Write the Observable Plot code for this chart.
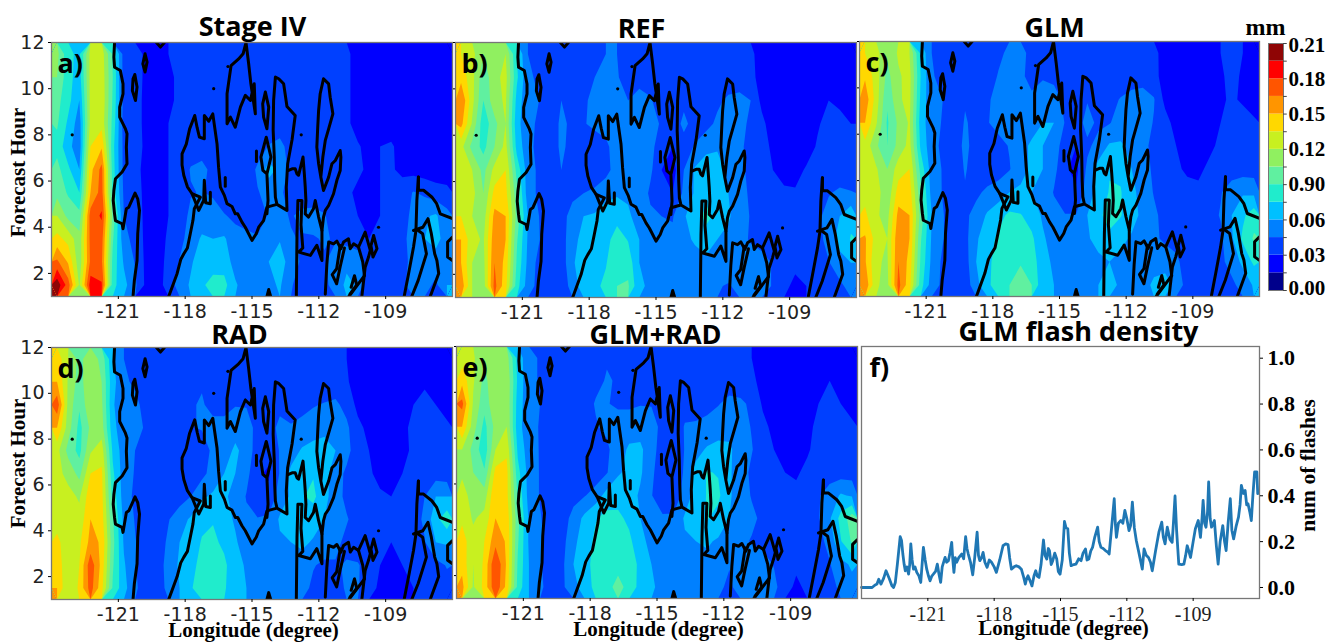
<!DOCTYPE html>
<html><head><meta charset="utf-8">
<script src="https://cdn.jsdelivr.net/npm/d3@7"></script>
<script src="https://cdn.jsdelivr.net/npm/@observablehq/plot@0.6"></script>
<style>
html,body{margin:0;padding:0;background:#fff}
#stage{position:relative;width:1338px;height:642px;overflow:hidden}
#stage svg{position:absolute;overflow:visible;background:transparent}
</style></head><body><div id="stage"></div>
<script>
// Precipitation fields in thousandths of a mm. 36 columns (-124..-106, 0.5 deg), 11 rows (hour 12 at top to hour 1).
const stageIV = [
110,78,72,125,128,88, 38,36,27,26,30,33, 36,36,38,36,36,34, 36,36,36,36,36,36, 36,34,34,22,22,22, 22,22,22,22,22,22,
105,80,68,125,130,90, 38,36,27,24,28,32, 36,38,36,36,38,34, 36,36,36,36,36,36, 36,34,34,22,22,22, 22,22,22,22,22,22,
95,80,60,125,132,88, 40,36,26,22,28,32, 36,34,38,36,36,34, 36,34,36,34,36,36, 36,34,34,22,22,22, 22,22,22,22,22,22,
92,72,52,125,130,85, 38,36,26,24,30,34, 36,36,38,38,36,34, 36,34,36,36,36,36, 36,34,34,22,22,22, 22,22,22,22,22,22,
85,65,50,135,148,80, 40,36,27,24,30,34, 38,40,38,38,36,36, 36,46,50,38,36,36, 36,36,34,32,24,30, 32,24,24,22,22,22,
95,78,60,145,170,82, 40,34,26,24,30,36, 46,48,42,36,34,34, 48,66,56,40,36,34, 34,36,34,32,28,30, 32,26,24,22,22,22,
100,88,75,150,172,85, 42,36,26,24,30,36, 44,46,42,36,34,34, 44,50,48,38,38,36, 36,34,32,28,28,30, 30,38,46,42,36,34,
120,100,95,172,182,100, 45,38,26,24,30,38, 48,52,54,46,42,40, 40,46,48,44,48,50, 46,38,34,30,28,30, 32,38,50,58,62,50,
140,130,110,170,172,92, 50,40,26,24,32,40, 52,62,60,62,50,48, 46,56,58,46,44,44, 46,44,40,36,30,30, 34,42,50,60,66,52,
168,148,110,168,168,85, 58,44,26,24,34,46, 58,68,66,68,54,50, 50,60,72,48,44,40, 44,50,56,54,34,30, 36,42,48,52,52,50,
205,172,118,188,182,80, 65,48,26,24,36,52, 62,72,82,80,62,52, 50,56,62,46,40,38, 42,50,64,58,30,30, 36,42,52,50,42,60];
const ref = [
135,125,105,118,120,75, 45,40,36,45,38,35, 40,45,45,38,40,36, 38,36,38,36,36,34, 36,34,34,22,22,22, 22,22,22,26,26,22,
145,125,95,115,125,78, 48,42,32,45,40,38, 45,48,46,40,42,40, 38,36,38,38,36,36, 36,36,36,22,22,22, 22,22,24,28,24,22,
165,125,90,115,122,70, 48,45,32,45,42,42, 50,50,48,45,48,46, 40,36,42,40,38,42, 48,50,45,26,22,22, 22,22,26,30,26,24,
155,118,80,100,120,65, 50,42,36,48,42,44, 48,50,55,52,55,55, 42,38,48,40,40,48, 52,50,42,34,22,22, 22,22,28,36,36,30,
125,100,85,105,125,70, 50,40,36,48,40,36, 38,42,52,58,55,50, 36,30,40,46,55,58, 52,48,40,34,28,22, 22,22,32,36,36,32,
125,120,100,125,135,85, 52,42,36,45,40,36, 36,40,52,60,58,48, 30,24,45,62,70,68, 56,50,40,36,30,26, 24,32,36,36,36,36,
128,125,105,140,140,95, 52,42,35,42,42,45, 48,55,58,58,56,42, 30,30,48,62,72,72, 60,52,42,36,32,32, 32,36,40,44,48,46,
135,120,112,155,150,100, 60,45,32,40,50,60, 62,68,70,62,55,48, 45,44,58,70,78,72, 62,52,44,38,36,34, 34,36,42,50,60,72,
150,125,118,160,150,92, 58,46,32,38,55,65, 68,70,82,74,60,52, 48,48,56,62,70,60, 56,48,44,40,38,32, 30,32,38,52,66,76,
150,120,115,165,145,88, 56,40,32,36,58,68, 70,74,86,84,60,55, 50,50,52,54,55,50, 52,50,50,50,44,34, 32,32,36,44,54,60,
160,120,112,170,140,82, 52,40,30,34,52,68, 72,78,90,92,62,58, 52,48,50,52,52,46, 44,48,50,50,44,32, 28,30,32,36,42,50];
const glm = [
135,125,108,122,120,72, 45,40,36,42,40,35, 42,48,48,42,40,36, 38,36,38,36,38,36, 36,34,34,24,22,22, 22,24,30,32,30,26,
148,128,100,118,125,75, 46,42,34,42,42,38, 46,48,48,40,44,42, 38,36,38,40,38,36, 38,38,36,22,22,22, 24,24,28,34,28,24,
160,128,92,118,124,72, 48,45,36,44,42,42, 52,52,50,48,50,50, 42,36,44,42,40,46, 50,52,46,26,22,22, 22,24,28,32,28,24,
150,122,88,108,122,68, 50,44,38,46,42,44, 50,52,58,55,60,60, 44,38,50,42,44,52, 58,52,44,36,24,22, 22,24,30,38,36,32,
130,108,90,110,125,72, 50,42,38,48,40,38, 40,46,56,62,60,54, 36,30,42,50,62,62, 56,48,42,36,30,24, 22,26,34,38,38,34,
128,122,105,128,135,85, 52,44,38,46,40,36, 38,44,56,62,60,50, 32,26,48,66,74,72, 60,52,42,38,32,28, 26,34,38,38,38,38,
130,128,108,142,142,95, 54,44,36,44,42,48, 52,60,62,60,56,44, 32,32,52,66,76,76, 64,54,44,38,34,34, 34,38,44,52,58,56,
138,122,115,155,150,100, 60,46,36,42,50,62, 70,78,76,68,58,50, 46,46,60,72,80,76, 66,56,48,40,38,36, 36,40,46,60,72,84,
152,128,120,162,150,92, 58,46,36,40,58,68, 78,82,86,78,62,54, 50,50,58,66,72,64, 58,52,48,42,40,36, 34,36,42,58,78,92,
152,122,118,165,145,88, 56,42,36,38,60,72, 80,84,88,84,64,58, 52,50,52,56,60,56, 56,56,56,54,48,38, 36,36,42,50,64,78,
162,122,115,170,140,82, 52,42,34,36,55,72, 82,90,100,90,64,60, 55,50,55,60,70,55, 48,56,62,66,56,38, 32,34,38,42,50,62];
const rad = [
145,120,100,115,100,62, 45,42,36,30,34,34, 38,42,38,38,42,36, 36,34,36,36,36,36, 34,34,30,22,22,24, 24,24,28,26,22,22,
150,118,98,118,105,65, 48,42,36,30,36,38, 40,44,40,38,42,40, 36,34,36,38,36,36, 36,36,32,22,22,22, 24,24,26,28,24,22,
175,115,92,118,108,62, 48,50,38,32,36,40, 44,46,42,40,44,44, 38,36,42,40,42,44, 46,48,40,26,24,22, 22,24,30,34,30,26,
150,112,85,108,112,65, 50,58,40,34,36,42, 44,46,48,50,56,52, 40,40,48,46,48,52, 56,54,48,34,26,22, 22,24,36,40,36,32,
125,100,85,118,128,72, 52,45,38,36,36,34, 34,38,48,55,62,56, 36,34,46,52,62,66, 66,60,50,36,30,24, 22,24,34,38,38,34,
125,115,100,135,138,78, 52,44,38,34,34,32, 34,40,52,60,60,50, 32,28,46,64,74,74, 66,52,42,36,32,26, 24,30,36,38,38,36,
130,125,118,145,140,85, 52,42,36,34,36,38, 45,58,62,62,56,44, 34,34,52,62,74,78, 66,50,42,38,34,32, 30,32,34,45,60,60,
130,122,125,150,142,92, 56,44,36,34,44,54, 62,72,74,66,58,48, 46,48,62,66,72,68, 60,50,46,40,36,34, 32,34,38,48,70,85,
138,128,132,155,148,95, 58,46,36,36,48,60, 68,76,78,72,62,52, 50,50,58,60,64,58, 54,48,42,38,36,32, 30,32,34,44,60,62,
145,122,135,175,145,92, 62,46,36,36,52,62, 72,78,85,78,66,58, 54,48,50,52,52,46, 42,44,46,46,40,30, 28,30,32,36,40,46,
150,120,138,172,140,88, 65,48,36,36,50,60, 74,80,90,78,60,60, 54,46,48,50,50,42, 36,42,46,46,38,26, 24,26,30,34,36,40];
const glmRad = [
128,122,108,118,112,70, 48,44,42,34,36,34, 38,44,44,40,42,36, 36,34,34,34,36,34, 36,34,30,24,22,22, 22,22,30,28,26,24,
145,122,100,118,118,72, 48,44,40,34,38,38, 42,46,44,40,42,40, 36,34,36,38,36,36, 36,36,34,24,22,22, 22,22,28,30,28,24,
170,118,95,118,118,68, 50,45,38,36,38,40, 46,46,42,42,44,44, 38,34,40,42,42,44, 50,48,42,28,22,22, 22,24,30,34,30,26,
150,112,85,110,120,66, 50,44,38,36,38,42, 44,48,54,54,56,52, 40,36,46,46,48,54, 56,52,44,34,26,24, 22,26,34,40,36,32,
120,100,80,120,132,72, 52,44,38,36,36,34, 34,42,54,62,62,54, 34,30,46,54,62,64, 62,54,46,36,30,26, 24,28,36,40,38,34,
118,105,92,140,140,80, 54,44,38,36,36,32, 36,44,58,64,62,50, 30,30,48,66,76,74, 62,52,42,38,34,30, 28,34,38,40,38,38,
125,115,112,150,140,88, 54,44,38,36,40,44, 52,66,70,66,58,46, 32,34,52,66,76,78, 62,52,44,40,36,34, 34,38,44,50,62,58,
132,118,125,150,145,95, 58,46,38,38,50,64, 74,80,78,72,60,50, 48,48,62,70,76,70, 60,52,48,42,40,36, 34,38,44,58,80,98,
142,125,135,160,148,92, 58,48,38,40,56,68, 78,84,84,78,66,54, 52,50,58,60,62,58, 54,48,44,40,38,36, 34,34,40,50,74,92,
145,120,138,180,148,88, 60,46,40,42,60,70, 80,86,88,86,70,60, 54,50,54,54,56,50, 46,50,52,52,44,36, 32,34,38,44,56,62,
155,118,140,178,145,85, 60,48,38,42,56,66, 80,88,92,88,68,62, 56,48,52,56,56,48, 42,52,58,60,50,34, 28,32,36,40,48,56];

// Black outline, common to the five maps: [longitude, hour] along each traced line.
const outlineCoast = [[-121.17,12],[-121.2,11.37],[-121.17,10.93],[-120.91,10.79],[-120.79,10.21],[-120.79,9.78],[-120.94,9.2],[-120.94,8.77],[-120.68,8.26],[-120.61,8.05],[-120.64,7.47],[-120.61,6.75],[-120.83,6.39],[-121.13,6.1],[-121.2,5.59],[-121.23,5.16],[-121.17,4.58],[-121.13,4.29],[-120.83,4.15],[-120.79,3.93],[-120.64,4.8],[-120.53,4.87],[-120.25,5.48],[-120.13,5.23],[-120.05,4.73],[-120.13,3.72],[-120.16,2.56],[-120.28,1.7],[-120.34,1]];
const outlineLoopA = [[-119.8,11.51],[-119.71,11.15],[-119.8,10.72],[-119.9,11.08],[-119.8,11.51]];
const outlineLoopB = [[-120.26,10.61],[-120.16,10.07],[-120.23,9.49],[-120.37,9.92],[-120.34,10.43],[-120.26,10.61]];
const outlineNotch = [[-119.29,12],[-119.11,11.8],[-118.93,12]];
const outlineBasin = [[-118.74,1],[-118.36,2],[-118.2,2.6],[-118.06,2.85],[-117.9,3.1],[-117.77,3.72],[-117.65,4.3],[-117.59,4.8],[-117.32,5.3],[-117.69,5.45],[-117.9,5.75],[-118.06,6.24],[-118.14,6.7],[-118.14,7.18],[-117.95,7.6],[-117.8,8.26],[-117.57,8.84],[-117.46,8.3],[-117.36,7.9],[-117.14,7.83],[-117.14,8.84],[-116.94,8.59],[-116.76,8.91],[-116.57,7.61],[-116.5,6.6],[-116.42,5.74],[-116.24,5.38],[-116.12,5.02],[-115.9,4.9],[-115.75,4.58],[-115.64,4.58],[-115.45,4.22],[-115.3,4],[-115.15,3.72],[-115,3.43],[-114.81,3.72],[-114.7,4],[-114.48,4.29],[-114.33,4.87],[-113.88,4.99],[-113.43,4.73],[-113.46,5.74],[-113.4,6.75],[-113.2,7.8],[-113.06,8.84],[-113.43,9.23],[-113.58,10.21],[-113.8,10.43],[-113.95,10.5],[-114.03,9.49],[-114.05,8.2],[-114,7.04],[-113.98,6],[-113.95,5.3],[-113.88,4.99]];
const outlineKnot = [[-117.69,5.45],[-117.39,4.73],[-117.17,5.16],[-117.14,6.03],[-117.08,5.06],[-116.87,5.02],[-116.87,5.52]];
const outlinePeak = [[-115.27,12],[-115.15,11.08],[-115.05,10.21],[-114.85,8.91],[-114.9,10.21],[-115.07,9.49],[-115.3,9.71],[-115.52,9.2],[-115.75,8.33],[-115.97,8.77],[-116.12,8.48],[-116.12,9.78],[-115.94,11],[-115.6,11.29],[-115.4,11.51],[-115.27,12]];
const outlineLoopC = [[-114.4,9.85],[-114.25,9.2],[-114.33,8.26],[-114.48,8.77],[-114.52,9.34],[-114.4,9.85]];
const outlineDrop = [[-114.33,4.58],[-114.28,5.16],[-114.33,6.31],[-114.51,6.46],[-114.6,7.04],[-114.36,7.9],[-114.15,7.04],[-114.33,6.31]];
const outlineStem = [[-116.2,6.15],[-116.2,5.78]];
const outlineStemB = [[-114.8,7.3],[-114.8,6.85]];
const outlineRidge = [[-113.36,6.46],[-113.2,6.53],[-113.06,6.53],[-112.98,6.31],[-112.91,6.25],[-112.71,7.04],[-112.65,6.31],[-112.61,5.74],[-112.58,5.16],[-112.61,4.58],[-112.46,4.44],[-112.24,4.8],[-112.16,5.16],[-112.01,4.44],[-111.86,3.86],[-111.79,4.44],[-111.71,4.73],[-111.56,4.94],[-111.34,5.45],[-111.19,6.03],[-111.04,6.46],[-111.01,7.04],[-111.04,7.32],[-111.26,6.89],[-111.41,6.75],[-111.56,6.17],[-111.79,5.59],[-111.91,6.17],[-112.01,6.75],[-112.09,7.47],[-112.05,8.33],[-112.01,9.06],[-111.94,9.78],[-111.79,10.43],[-111.56,10.21],[-111.49,9.63],[-111.37,8.91],[-111.56,8.26],[-111.71,7.76],[-111.82,7.04],[-111.91,6.17]];
const outlineSouth = [[-113.01,1],[-112.98,3.72],[-112.94,5.16],[-112.76,5.16],[-112.8,4.1],[-112.72,3.1],[-112.9,2.92],[-112.38,2.78],[-112.09,3.22],[-111.86,2.56],[-111.86,3.86]];
const outlineLattice = [[-111.71,1.1],[-111.64,2.4],[-111.56,3.36],[-111.34,3.28],[-111.19,3.4],[-111.01,3.07],[-110.89,3.36],[-110.67,3.5],[-110.59,3.07],[-110.44,3.28],[-110.22,3.14],[-109.92,3.79],[-109.69,3],[-109.77,2.71],[-109.92,2.27],[-110.07,1]];
const outlineLatticeB = [[-110.22,3.14],[-110.03,2.5],[-109.95,1.9],[-110.65,1]];
const outlineLatticeC = [[-111.04,3.21],[-111.2,2.2],[-111.4,1.95],[-111.2,1.55],[-111.04,2.3],[-110.85,3.1]];
const outlineLatticeD = [[-110.6,1.1],[-110.3,1.5],[-110.4,1.9],[-110.55,1.4]];
const outlineLoopD = [[-109.54,3.64],[-109.39,3.07],[-109.57,2.71],[-109.66,3.2],[-109.54,3.64]];
const outlineEast = [[-107.53,6.17],[-107.53,5.6],[-107.3,5.6],[-106.93,5.31],[-106.71,5.02],[-106.55,4.58],[-106,4.37]];
const outlineEastB = [[-107.53,6.17],[-107.6,5.16],[-107.64,3.86],[-107.75,3.14],[-107.97,2],[-108.17,1]];
const outlineEastC = [[-107.75,3.86],[-107.33,4],[-107.1,4.37],[-106.95,3.72],[-106.8,2.85],[-106.7,2.56],[-106.62,2],[-107,1]];
const outlineEastD = [[-107.6,3.9],[-107.34,3.72],[-107.17,2.85],[-107.54,1.7],[-107.83,1]];
const outlineEdge = [[-106,3.57],[-106.22,3.36],[-106.22,2.71],[-106,2.56]];
const outlineCusp = [[-114.33,1],[-114.25,1.3],[-114.16,1]];
const outlineSpots = [[-116.72,10],[-116.08,10.96],[-112.79,8],[-109.32,4],[-123.07,8]];

// Flash density against longitude, panel f: [longitude, flashes].
const flashSeries = [[-124,0],[-123.52,0],[-123.4,.01],[-123.3,.015],[-123.22,.036],[-123.12,.015],[-123,.04],[-122.89,.073],[-122.75,.04],[-122.62,.007],[-122.55,0],[-122.47,.022],[-122.38,.1],[-122.25,.222],[-122.19,.205],[-122.13,.146],[-122.07,.1],[-122.02,.073],[-121.95,.09],[-121.87,.058],[-121.82,.1],[-121.77,.19],[-121.71,.12],[-121.65,.08],[-121.58,.09],[-121.5,.066],[-121.4,.05],[-121.32,.022],[-121.26,.1],[-121.2,.175],[-121.12,.12],[-121.05,.08],[-120.97,.05],[-120.9,.029],[-120.82,.05],[-120.75,.058],[-120.65,.07],[-120.57,.102],[-120.5,.06],[-120.42,.022],[-120.35,.09],[-120.22,.131],[-120.15,.11],[-120.07,.117],[-120,.15],[-119.92,.197],[-119.87,.12],[-119.82,.066],[-119.76,.13],[-119.7,.11],[-119.6,.13],[-119.47,.146],[-119.38,.125],[-119.29,.222],[-119.23,.17],[-119.17,.146],[-119.07,.11],[-118.97,.055],[-118.88,.13],[-118.77,.241],[-118.71,.14],[-118.65,.117],[-118.57,.13],[-118.5,.153],[-118.42,.11],[-118.32,.088],[-118.22,.12],[-118.12,.11],[-118,.09],[-117.9,.066],[-117.75,.12],[-117.6,.182],[-117.48,.19],[-117.37,.187],[-117.3,.13],[-117.22,.08],[-117.1,.09],[-117,.095],[-116.88,.09],[-116.77,.08],[-116.68,.05],[-116.59,.015],[-116.53,.04],[-116.47,.051],[-116.38,.03],[-116.29,.007],[-116.2,.05],[-116.12,.073],[-116.05,.05],[-115.97,.044],[-115.88,.1],[-115.77,.207],[-115.7,.14],[-115.62,.124],[-115.55,.17],[-115.5,.161],[-115.42,.1],[-115.35,.117],[-115.26,.15],[-115.17,.124],[-115.1,.07],[-115.02,.058],[-114.92,.12],[-114.82,.288],[-114.75,.26],[-114.67,.256],[-114.6,.15],[-114.52,.095],[-114.4,.1],[-114.3,.102],[-114.18,.125],[-114.07,.117],[-113.98,.15],[-113.87,.168],[-113.8,.12],[-113.72,.124],[-113.63,.16],[-113.55,.175],[-113.45,.22],[-113.32,.263],[-113.25,.2],[-113.17,.175],[-113.07,.17],[-112.97,.161],[-112.87,.155],[-112.8,.146],[-112.7,.25],[-112.57,.387],[-112.52,.28],[-112.47,.219],[-112.38,.28],[-112.27,.292],[-112.18,.28],[-112.09,.336],[-112,.3],[-111.9,.248],[-111.83,.27],[-111.75,.372],[-111.66,.26],[-111.57,.204],[-111.45,.15],[-111.3,.08],[-111.22,.168],[-111.12,.14],[-111.02,.131],[-110.93,.11],[-110.85,.073],[-110.7,.16],[-110.55,.241],[-110.42,.285],[-110.35,.22],[-110.27,.19],[-110.17,.263],[-110.05,.21],[-109.95,.197],[-109.88,.3],[-109.82,.399],[-109.75,.25],[-109.65,.102],[-109.52,.1],[-109.42,.102],[-109.34,.14],[-109.27,.182],[-109.2,.16],[-109.12,.131],[-109,.2],[-108.9,.256],[-108.77,.292],[-108.67,.219],[-108.6,.3],[-108.55,.38],[-108.48,.28],[-108.42,.263],[-108.35,.33],[-108.3,.46],[-108.23,.3],[-108.17,.263],[-108.04,.292],[-107.95,.18],[-107.87,.102],[-107.78,.2],[-107.66,.27],[-107.58,.2],[-107.51,.161],[-107.42,.28],[-107.32,.387],[-107.25,.25],[-107.17,.212],[-107.05,.27],[-106.95,.307],[-106.88,.36],[-106.82,.445],[-106.73,.41],[-106.65,.423],[-106.58,.36],[-106.52,.365],[-106.44,.33],[-106.37,.292],[-106.3,.4],[-106.22,.504],[-106.12,.504],[-106.08,.409]];

// Colour classes
const levels = [0,15,30,45,60,75,90,105,120,135,150,165,180,195];
const bandColors = ["#00008b","#0000ff","#0040ff","#0080ff","#00c0ff","#20eccc","#60f0a0","#90f060","#c8f020","#ffd800","#ff9500","#ff5500","#ff0000","#8f0505"];
const colorbarLabels = ["0.21","0.18","0.15","0.12","0.90","0.06","0.03","0.00"];
const colorbarTicks = [210,180,150,120,90,60,30,0];
const lonTicks = [-121,-118,-115,-112,-109];
const hourTicks = [2,4,6,8,10,12];
const flashTicks = [0,0.2,0.4,0.6,0.8,1.0];

const outlines = [outlineCoast,outlineLoopA,outlineLoopB,outlineNotch,outlineBasin,outlineKnot,outlinePeak,outlineLoopC,outlineDrop,outlineStem,outlineStemB,outlineRidge,outlineSouth,outlineLattice,outlineLatticeB,outlineLatticeC,outlineLatticeD,outlineLoopD,outlineEast,outlineEastB,outlineEastC,outlineEastD,outlineEdge,outlineCusp]
  .flatMap((line,id)=>line.map(([lon,hour])=>({lon,hour,id})));

const SANS = "'Open Sans',sans-serif", SERIF = "'Liberation Serif',serif", TICK = "'DejaVu Sans',sans-serif";
const stage = document.getElementById("stage");
const colorScale = {type:"threshold",domain:levels.slice(1),range:bandColors};
const lonFmt = d=>String(d);

function place(svg,left,top){svg.style.left=left+"px";svg.style.top=top+"px";stage.appendChild(svg);}

function mapPanel({values,title,letter,x0,x1,y0,y1,titleX,titleY,hourLabelY,bottomLabel}){
  const mL=50,mR=4,mT=40,mB=42;
  const w=x1-x0,h=y1-y0;
  const grid={x1:-124,x2:-106,y1:12,y2:1,width:36,height:11};
  const marks=[
    Plot.raster(values,{...grid,fill:Plot.identity,imageRendering:"pixelated"}),
    Plot.contour(values,{...grid,fill:Plot.identity,thresholds:levels}),
    Plot.line(outlines,{x:"lon",y:"hour",z:"id",stroke:"#000",strokeWidth:3,strokeLinejoin:"round",curve:"linear",clip:true}),
    Plot.dot(outlineSpots,{x:d=>d[0],y:d=>d[1],r:1.6,fill:"#000"}),
    Plot.frame({stroke:"#777",strokeWidth:1.3}),
    Plot.axisX({ticks:lonTicks,tickFormat:lonFmt,tickSize:3,tickPadding:5,label:null,fontSize:19,fontFamily:TICK,fill:"#222"}),
    hourLabelY
      ? Plot.axisY({ticks:hourTicks,tickSize:3,tickPadding:4,label:null,fontSize:19,fontFamily:TICK,fill:"#222"})
      : Plot.axisY({ticks:hourTicks,tickSize:2,tickFormat:()=>"",label:null}),
    Plot.text([letter],{frameAnchor:"top-left",dx:6,dy:22,fontSize:27,fontWeight:700,fontFamily:SANS,fill:"#000",lineAnchor:"middle",textAnchor:"start"}),
    Plot.text([title],{frameAnchor:"top-left",dx:titleX-x0,dy:titleY-y0,fontSize:27,fontWeight:700,fontFamily:SANS,fill:"#000",textAnchor:"middle",lineAnchor:"middle"})
  ];
  if(hourLabelY) marks.push(Plot.text(["Forecast Hour"],{frameAnchor:"left",dx:-33,dy:hourLabelY-(y0+y1)/2,rotate:-90,fontSize:21,fontWeight:700,fontFamily:SERIF,fill:"#000",textAnchor:"middle",lineAnchor:"middle"}));
  if(bottomLabel) marks.push(Plot.text(["Longitude (degree)"],{frameAnchor:"bottom-left",dx:bottomLabel.x-x0,dy:bottomLabel.y-y1,fontSize:21,fontWeight:700,fontFamily:SERIF,fill:"#000",textAnchor:"middle",lineAnchor:"middle"}));
  const svg=Plot.plot({width:w+mL+mR,height:h+mT+mB,marginLeft:mL,marginRight:mR,marginTop:mT,marginBottom:mB,
    x:{domain:[-124,-106]},y:{domain:[1,12]},color:colorScale,style:{background:"transparent",overflow:"visible"},marks});
  place(svg,x0-mL,y0-mT);
}

mapPanel({values:stageIV,title:"Stage IV",letter:"a)",x0:51,x1:452,y0:42,y1:296,titleX:252,titleY:27,hourLabelY:172});
mapPanel({values:ref,title:"REF",letter:"b)",x0:455,x1:856,y0:42,y1:297,titleX:641,titleY:29});
mapPanel({values:glm,title:"GLM",letter:"c)",x0:859,x1:1259,y0:41,y1:296,titleX:1054,titleY:28});
mapPanel({values:rad,title:"RAD",letter:"d)",x0:51,x1:452,y0:347,y1:599,titleX:239,titleY:335,hourLabelY:463,bottomLabel:{x:253,y:630}});
mapPanel({values:glmRad,title:"GLM+RAD",letter:"e)",x0:456,x1:857,y0:346,y1:598,titleX:655,titleY:335,bottomLabel:{x:658,y:629}});

// Panel f
{
  const mL=10,mR=90,mT=40,mB=44,x0=861,x1=1259,y0=346,y1=598;
  const svg=Plot.plot({width:x1-x0+mL+mR,height:y1-y0+mT+mB,marginLeft:mL,marginRight:mR,marginTop:mT,marginBottom:mB,
    x:{domain:[-124,-106]},y:{domain:[-0.048,1.051]},style:{background:"transparent",overflow:"visible"},
    marks:[
      Plot.line(flashSeries,{x:d=>d[0],y:d=>d[1],stroke:"#1f77b4",strokeWidth:2.8,strokeLinejoin:"round"}),
      Plot.frame({stroke:"#777",strokeWidth:1.3}),
      Plot.axisX({ticks:lonTicks,tickFormat:lonFmt,tickSize:3,tickPadding:5,label:null,fontSize:20,fontFamily:SERIF,fill:"#222"}),
      Plot.axisY({anchor:"right",ticks:flashTicks,tickFormat:d=>d.toFixed(1),tickSize:3,tickPadding:5,label:null,fontSize:22,fontWeight:700,fontFamily:SERIF,fill:"#000"}),
      Plot.text(["f)"],{frameAnchor:"top-left",dx:8,dy:22,fontSize:27,fontWeight:700,fontFamily:SANS,fill:"#000",lineAnchor:"middle",textAnchor:"start"}),
      Plot.text(["GLM flash density"],{frameAnchor:"top-left",dx:1078-x0,dy:332-y0,fontSize:27,fontWeight:700,fontFamily:SANS,fill:"#000",textAnchor:"middle",lineAnchor:"middle"}),
      Plot.text(["Longitude (degree)"],{frameAnchor:"bottom-left",dx:1063-x0,dy:628-y1,fontSize:21,fontWeight:700,fontFamily:SERIF,fill:"#000",textAnchor:"middle",lineAnchor:"middle"}),
      Plot.text(["num of flashes"],{frameAnchor:"right",dx:1308-x1,dy:465-(y0+y1)/2,rotate:-90,fontSize:21.5,fontWeight:700,fontFamily:SERIF,fill:"#000",textAnchor:"middle",lineAnchor:"middle"})
    ]});
  place(svg,x0-mL,y0-mT);
}

// Colour bar
{
  const mL=4,mR=50,mT=30,mB=10,x0=1268,x1=1283,y0=43,y1=290;
  const edges=levels.map(lo=>({lo,hi:lo+15}));
  const mid=colorbarTicks.map((v,i)=>({v,label:colorbarLabels[i]}));
  const labelStyle={x:1,y:"v",text:"label",dx:5,textAnchor:"start",fontSize:21,fontWeight:700,fontFamily:SERIF,fill:"#000"};
  const svg=Plot.plot({width:x1-x0+mL+mR,height:y1-y0+mT+mB,marginLeft:mL,marginRight:mR,marginTop:mT,marginBottom:mB,
    x:{domain:[0,1],axis:null},y:{domain:[0,210],axis:null},color:colorScale,style:{background:"transparent",overflow:"visible"},
    marks:[
      Plot.rect(edges,{x1:0,x2:1,y1:"lo",y2:"hi",fill:"lo"}),
      Plot.frame({stroke:"#777",strokeWidth:1}),
      Plot.ruleY(levels.concat(210),{x1:1,x2:1.25,y:d=>d,stroke:"#444"}),
      Plot.text(mid.filter(d=>d.v>0&&d.v<210),labelStyle),
      Plot.text(mid.filter(d=>d.v==210),{...labelStyle,dy:2}),
      Plot.text(mid.filter(d=>d.v==0),{...labelStyle,dy:-2}),
      Plot.text(["mm"],{frameAnchor:"top-left",dx:-23,dy:-16,fontSize:24,fontWeight:700,fontFamily:SERIF,fill:"#000",textAnchor:"start",lineAnchor:"middle"})
    ]});
  place(svg,x0-mL,y0-mT);
}
</script></body></html>
